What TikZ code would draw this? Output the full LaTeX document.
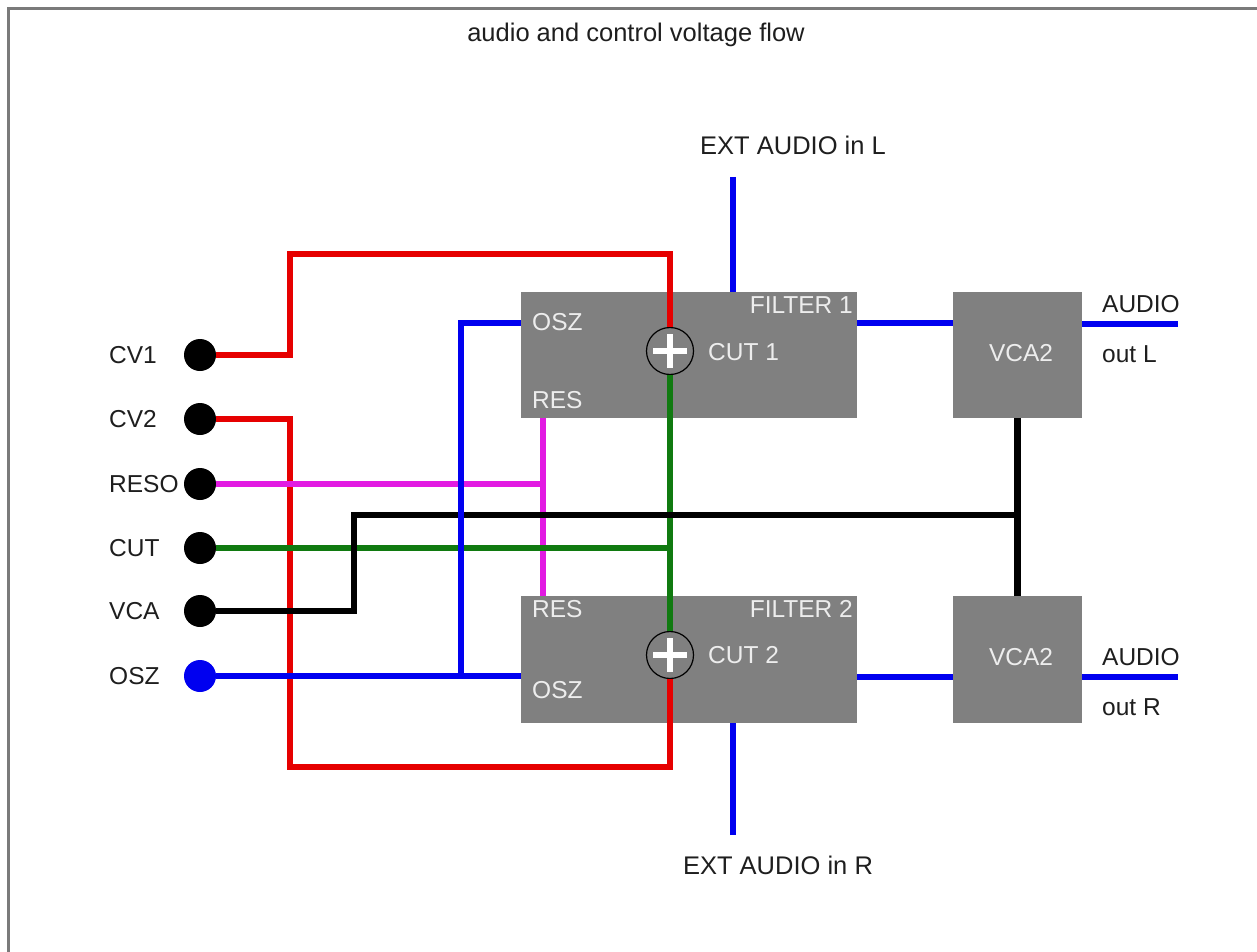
\documentclass[tikz,border=0pt]{standalone}
\usepackage{fontspec}
\setmainfont{Liberation Sans}
\definecolor{boxgray}{HTML}{808080}
\definecolor{framegray}{HTML}{7A7A7A}
\definecolor{labgray}{HTML}{1E1E1E}
\definecolor{wred}{HTML}{E60000}
\definecolor{wblue}{HTML}{0000F0}
\definecolor{wgreen}{HTML}{107A10}
\definecolor{wmag}{HTML}{E21AE2}
\definecolor{intext}{HTML}{EDEDED}
\begin{document}
\begin{tikzpicture}[x=1pt,y=-1pt, font=\fontsize{24.5}{28}\selectfont,
 box/.style={rectangle, fill=boxgray, inner sep=0},
 jack/.style={circle, fill=black, minimum size=32pt, inner sep=0},
 wire/.style={line width=6.5pt},
 sumnode/.style={circle, draw=black, line width=1.2pt, fill=boxgray, minimum size=47pt, inner sep=0,
   path picture={\draw[white,line width=5.5pt] ([xshift=-17pt]path picture bounding box.center) -- ([xshift=17pt]path picture bounding box.center);
                 \draw[white,line width=5.5pt] ([yshift=-17pt]path picture bounding box.center) -- ([yshift=17pt]path picture bounding box.center);}},
 lbl/.style={text=labgray, inner sep=0},
 biglbl/.style={text=labgray, inner sep=0, font=\fontsize{25.5}{29}\selectfont},
 inlbl/.style={text=intext, inner sep=0}]

\useasboundingbox (0,0) rectangle (1257,952);
\draw[framegray, line width=3pt] (1270,8.5) -- (8.5,8.5) -- (8.5,965);

% title
\node[biglbl] (title) at (636,35) {audio and control voltage flow};

% jacks and their labels
\node[jack] (cv1) at (200,355) {};
\node[jack] (cv2) at (200,419) {};
\node[jack] (reso) at (200,484) {};
\node[jack] (cut) at (200,548) {};
\node[jack] (vca) at (200,611) {};
\node[jack, fill=wblue] (osz) at (200,676) {};
\node[lbl, anchor=west] (lcv1) at (109,355) {CV1};
\node[lbl, anchor=west] (lcv2) at (109,419) {CV2};
\node[lbl, anchor=west] (lreso) at (109,484) {RESO};
\node[lbl, anchor=west] (lcut) at (109,548) {CUT};
\node[lbl, anchor=west] (lvca) at (109,611) {VCA};
\node[lbl, anchor=west] (losz) at (109,676) {OSZ};

% filter and VCA boxes
\node[box, minimum width=336pt, minimum height=126pt] (f1) at (689,355) {};
\node[box, minimum width=336pt, minimum height=127pt] (f2) at (689,659.5) {};
\node[box, minimum width=129pt, minimum height=126pt] (v1) at (1017.5,355) {};
\node[box, minimum width=129pt, minimum height=127pt] (v2) at (1017.5,659.5) {};

\node[sumnode] (sum1) at (670,351) {};
\node[sumnode] (sum2) at (670,655) {};

% labels inside boxes
\node[inlbl, anchor=west] (f1osz) at (532,322) {OSZ};
\node[inlbl, anchor=west] (f1res) at (532,400) {RES};
\node[inlbl, anchor=east] (f1name) at (853,305) {FILTER 1};
\node[inlbl, anchor=west] (f1cut) at (708,352) {CUT 1};
\node[inlbl, anchor=west] (f2res) at (532,609) {RES};
\node[inlbl, anchor=east] (f2name) at (853,609) {FILTER 2};
\node[inlbl, anchor=west] (f2cut) at (708,655) {CUT 2};
\node[inlbl, anchor=west] (f2osz) at (532,690) {OSZ};
\node[inlbl] (v1name) at (1021,353) {VCA2};
\node[inlbl] (v2name) at (1021,657) {VCA2};

% outside labels
\node[lbl, anchor=west] (aul) at (1102,304) {AUDIO};
\node[lbl, anchor=west] (outl) at (1102,354) {out L};
\node[lbl, anchor=west] (aur) at (1102,657) {AUDIO};
\node[lbl, anchor=west] (outr) at (1102,707) {out R};
\node[biglbl] (extl) at (793,145) {EXT AUDIO in L};
\node[biglbl] (extr) at (778,865) {EXT AUDIO in R};

% coordinates for free ends and bends
\coordinate (extlend) at (733,177);
\coordinate (extrend) at (733,835);
\coordinate (outlend) at (1178,324);
\coordinate (outrend) at (1178,677);
\coordinate (redx) at (290,0);
\coordinate (redtop) at (0,254);
\coordinate (redbot) at (0,767);
\coordinate (magx) at (543,0);
\coordinate (blackx) at (354,0);
\coordinate (blacky) at (0,515);
\coordinate (bluex) at (461,0);
\coordinate (f1in) at (0,323);

% red CV wires
\draw[wire, wred] (cv1.east) -- (cv1 -| redx) -- (redx |- redtop) -- (sum1 |- redtop) -- (sum1.north);
\draw[wire, wred] (cv2.east) -- (cv2 -| redx) -- (redx |- redbot) -- (sum2 |- redbot) -- (sum2.south);
% magenta resonance
\draw[wire, wmag] (reso.east) -- (reso -| magx);
\draw[wire, wmag] (f1.south -| magx) -- (f2.north -| magx);
% green cutoff
\draw[wire, wgreen] (cut.east) -- (cut -| sum1);
\draw[wire, wgreen] (sum1.south) -- (sum2.north);
% black VCA
\draw[wire, black] (vca.east) -- (vca -| blackx) -- (blackx |- blacky) -- (v1 |- blacky);
\draw[wire, black] (v1.south) -- (v2.north);
% blue OSZ
\draw[wire, wblue] (osz.east) -- (f2.west |- osz);
\draw[wire, wblue] (bluex |- osz) -- (bluex |- f1in) -- (f1.west |- f1in);
% audio paths
\draw[wire, wblue] (extlend) -- (f1.north -| extlend);
\draw[wire, wblue] (extrend) -- (f2.south -| extrend);
\draw[wire, wblue] (f1.east |- f1in) -- (v1.west |- f1in);
\draw[wire, wblue] (v1.east |- outlend) -- (outlend);
\draw[wire, wblue] (f2.east |- outrend) -- (v2.west |- outrend);
\draw[wire, wblue] (v2.east |- outrend) -- (outrend);
\end{tikzpicture}
\end{document}
